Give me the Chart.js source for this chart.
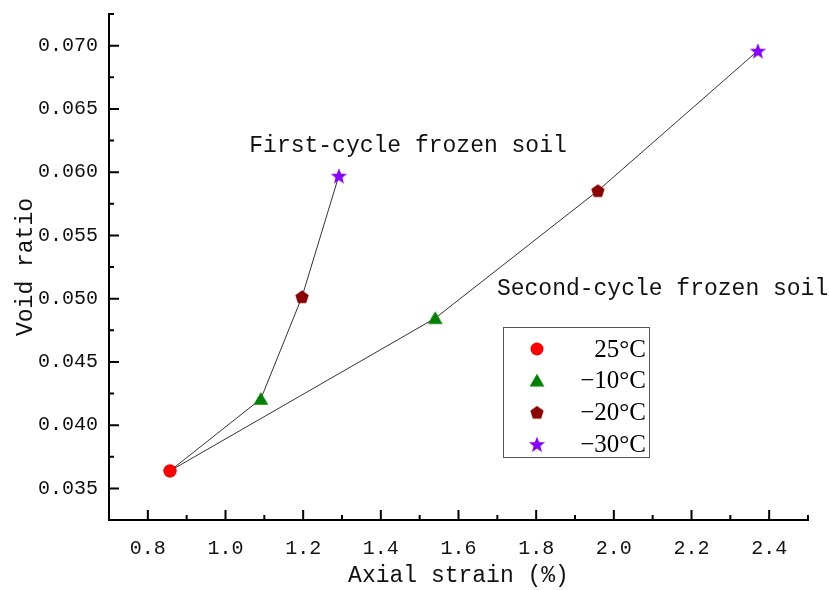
<!DOCTYPE html>
<html>
<head>
<meta charset="utf-8">
<script src="https://cdn.jsdelivr.net/npm/chart.js@4.4.1/dist/chart.umd.min.js"></script>
<style>
  body { margin: 0; background: #fff; }
  #wrap { width: 829px; height: 590px; }
</style>
</head>
<body>
<div id="wrap"><canvas id="chart" width="829" height="590"></canvas></div>
<script>
// temperatures (one marker per temperature)
const temps = ['25°C', '\u221210°C', '\u221220°C', '\u221230°C'];
const markerColors = ['#ff0000', '#008000', '#8b0000', '#8800ff'];

// first-cycle frozen soil
const firstStrain = [0.857, 1.091, 1.197, 1.292];
const firstVoid = [0.03638, 0.04207, 0.05014, 0.05972];

// second-cycle frozen soil
const secondStrain = [0.857, 1.540, 1.959, 2.371];
const secondVoid = [0.03638, 0.04845, 0.05853, 0.06960];

// axis ticks
const xTicks = [0.8, 1.0, 1.2, 1.4, 1.6, 1.8, 2.0, 2.2, 2.4];
const xMinor = [0.9, 1.1, 1.3, 1.5, 1.7, 1.9, 2.1, 2.3, 2.5];
const yTicks = [0.035, 0.040, 0.045, 0.050, 0.055, 0.060, 0.065, 0.070];
const yMinor = [0.0375, 0.0425, 0.0475, 0.0525, 0.0575, 0.0625, 0.0675, 0.0725];

const monoFont = '"Liberation Mono", "DejaVu Sans Mono", monospace';

// marker images: circle, triangle, pentagon, star
function makeMarker(kind, color) {
    const size = 22;
    const c = document.createElement('canvas');
    c.width = size; c.height = size;
    const ctx = c.getContext('2d');
    const cx = size / 2, cy = size / 2;
    ctx.fillStyle = color;
    ctx.beginPath();
    if (kind === 'circle') {
        ctx.arc(cx, cy, 6.5, 0, Math.PI * 2);
    } else if (kind === 'triangle') {
        const r = 8.5;
        for (let i = 0; i < 3; i++) {
            const a = -Math.PI / 2 + i * 2 * Math.PI / 3;
            const px = cx + r * Math.cos(a), py = cy + 1.5 + r * Math.sin(a);
            i ? ctx.lineTo(px, py) : ctx.moveTo(px, py);
        }
    } else if (kind === 'pentagon') {
        const r = 7;
        for (let i = 0; i < 5; i++) {
            const a = -Math.PI / 2 + i * 2 * Math.PI / 5;
            const px = cx + r * Math.cos(a), py = cy + 0.5 + r * Math.sin(a);
            i ? ctx.lineTo(px, py) : ctx.moveTo(px, py);
        }
    } else {
        const ro = 8.5, ri = 3.6;
        for (let i = 0; i < 10; i++) {
            const r = i % 2 ? ri : ro;
            const a = -Math.PI / 2 + i * Math.PI / 5;
            const px = cx + r * Math.cos(a), py = cy + 1 + r * Math.sin(a);
            i ? ctx.lineTo(px, py) : ctx.moveTo(px, py);
        }
    }
    ctx.closePath();
    ctx.fill();
    return c;
}
const markerKinds = ['circle', 'triangle', 'pentagon', 'star'];
const markers = markerKinds.map((k, i) => makeMarker(k, markerColors[i]));

function toPoints(xs, ys) {
    return xs.map((x, i) => ({ x: x, y: ys[i] }));
}

// ticks drawn inward, plus legend box and the two text labels
const extras = {
    id: 'extras',
    afterDraw(chart) {
        const ctx = chart.ctx;
        const xs = chart.scales.x, ys = chart.scales.y;
        const left = chart.chartArea.left, bottom = chart.chartArea.bottom;
        ctx.save();
        ctx.strokeStyle = '#000';
        ctx.lineWidth = 2;
        ctx.beginPath();
        xTicks.forEach(v => { const p = xs.getPixelForValue(v); ctx.moveTo(p, bottom); ctx.lineTo(p, bottom - 10); });
        xMinor.forEach(v => { const p = xs.getPixelForValue(v); ctx.moveTo(p, bottom); ctx.lineTo(p, bottom - 5); });
        yTicks.forEach(v => { const p = ys.getPixelForValue(v); ctx.moveTo(left, p); ctx.lineTo(left + 10, p); });
        yMinor.forEach(v => { const p = ys.getPixelForValue(v); ctx.moveTo(left, p); ctx.lineTo(left + 5, p); });
        ctx.stroke();

        // curve labels
        ctx.fillStyle = '#111';
        ctx.font = '23px ' + monoFont;
        ctx.textBaseline = 'middle';
        ctx.textAlign = 'center';
        ctx.fillText('First-cycle frozen soil', xs.getPixelForValue(1.47), ys.getPixelForValue(0.0621));
        ctx.textAlign = 'left';
        ctx.fillText('Second-cycle frozen soil', xs.getPixelForValue(1.699), ys.getPixelForValue(0.05077));

        // legend
        const bx = 503, by = 327, bw = 146, bh = 130;
        ctx.lineWidth = 1;
        ctx.strokeStyle = '#555';
        ctx.strokeRect(bx + 0.5, by + 0.5, bw, bh);
        ctx.font = '25px "Liberation Serif", "Times New Roman", serif';
        ctx.textAlign = 'right';
        ctx.fillStyle = '#000';
        temps.forEach((t, i) => {
            const ry = by + 22 + i * 31.7;
            const m = markers[i];
            ctx.drawImage(m, bx + 34 - m.width / 2, ry - m.height / 2);
            ctx.fillText(t, bx + bw - 3, ry + 1);
        });
        ctx.restore();
    }
};

const lineStyle = {
    showLine: true,
    borderColor: '#333',
    borderWidth: 1,
    tension: 0,
    pointStyle: markers,
    pointRadius: 7,
    pointHoverRadius: 7
};

new Chart(document.getElementById('chart'), {
    type: 'scatter',
    data: {
        datasets: [
            Object.assign({ label: 'First-cycle frozen soil', data: toPoints(firstStrain, firstVoid) }, lineStyle),
            Object.assign({ label: 'Second-cycle frozen soil', data: toPoints(secondStrain, secondVoid) }, lineStyle)
        ]
    },
    options: {
        responsive: false,
        animation: false,
        layout: { padding: { top: 14, right: 21, left: 0, bottom: 0 } },
        plugins: { legend: { display: false }, tooltip: { enabled: false } },
        scales: {
            x: {
                type: 'linear',
                min: 0.7, max: 2.5,
                afterBuildTicks: s => { s.ticks = xTicks.map(v => ({ value: v })); },
                afterFit: s => { s.height = 70; s.paddingLeft = 0; s.paddingRight = 0; },
                grid: { display: false, drawTicks: false },
                border: { display: true, color: '#000', width: 2 },
                ticks: {
                    color: '#111', padding: 17,
                    font: { family: monoFont, size: 20 },
                    callback: v => v.toFixed(1)
                },
                title: {
                    display: true, text: 'Axial strain (%)', color: '#111',
                    font: { family: monoFont, size: 23 },
                    padding: { top: 0, bottom: 0 }
                }
            },
            y: {
                type: 'linear',
                min: 0.0325, max: 0.0725,
                afterBuildTicks: s => { s.ticks = yTicks.map(v => ({ value: v })); },
                afterFit: s => { s.width = 109; s.paddingTop = 0; s.paddingBottom = 0; },
                grid: { display: false, drawTicks: false },
                border: { display: true, color: '#000', width: 2 },
                ticks: {
                    color: '#111', padding: 11,
                    font: { family: monoFont, size: 20 },
                    callback: v => v.toFixed(3)
                },
                title: {
                    display: true, text: 'Void ratio', color: '#111',
                    font: { family: monoFont, size: 23 },
                    padding: { top: 12, bottom: 0 }
                }
            }
        }
    },
    plugins: [extras]
});
</script>
</body>
</html>
